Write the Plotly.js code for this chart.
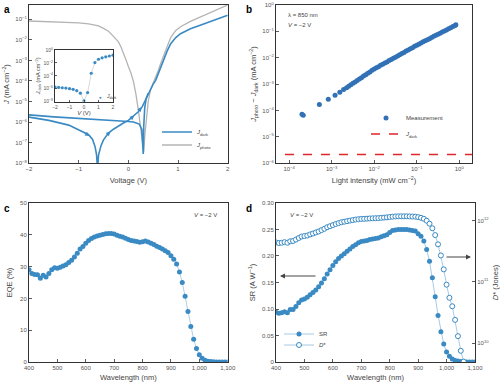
<!DOCTYPE html>
<html><head><meta charset="utf-8">
<script src="https://cdn.plot.ly/plotly-3.0.1.min.js"></script>
<style>html,body{margin:0;padding:0;background:#fff}#c{width:500px;height:382px}</style>
</head><body><div id="c"></div>
<script>
// ---------- Panel a: J–V ----------
const V_photo = [-2,-1.5,-1,-0.8,-0.6,-0.5,-0.4,-0.3,-0.2,-0.15,-0.1,-0.05,0,0.05,0.1,0.15,0.2,0.25,0.28,0.3,0.31,0.33,0.36,0.4,0.45,0.5,0.55,0.6,0.65,0.71,0.78,0.85,0.95,1.05,1.25,1.46,1.7,2.0];
const J_photo = [8.32e-2,7.59e-2,6.76e-2,6.03e-2,4.79e-2,3.63e-2,2.63e-2,1.48e-2,7.94e-3,4.68e-3,2.51e-3,1.12e-3,5.01e-4,2.51e-4,1.0e-4,2.51e-5,3.98e-6,5.01e-7,1.26e-7,3.98e-8,3.55e-8,2.0e-7,1.26e-6,1.0e-5,3.98e-5,7.94e-5,1.41e-4,3.16e-4,7.08e-4,1.58e-3,5.01e-3,1.26e-2,2.82e-2,4.37e-2,7.94e-2,0.135,0.251,0.501];
const V_dark_fwd = [-2,-1.6,-1.2,-1.0,-0.9,-0.8,-0.72,-0.67,-0.64,-0.62,-0.6,-0.55,-0.5,-0.4,-0.3,-0.2,-0.1,0,0.1,0.2,0.28,0.33,0.4,0.45,0.5,0.55,0.6,0.65,0.71,0.78,0.85,0.95,1.05,1.25,1.46,1.7,2.0];
const J_dark_fwd = [1.74e-6,1.20e-6,7.08e-7,4.17e-7,3.16e-7,2.40e-7,1.41e-7,6.31e-8,2.51e-8,5.01e-9,2.51e-8,7.08e-8,1.35e-7,2.88e-7,4.47e-7,6.46e-7,8.91e-7,1.20e-6,1.91e-6,3.16e-6,5.62e-6,1.0e-5,2.51e-5,4.47e-5,7.08e-5,1.07e-4,2.24e-4,5.01e-4,1.05e-3,2.82e-3,6.31e-3,1.26e-2,2.0e-2,3.47e-2,5.25e-2,8.71e-2,0.158];
const V_dark_rev = [0.4,0.36,0.33,0.31,0.3,0.29,0.27,0.22,0.1,0,-0.5,-1.0,-1.5,-2.0];
const J_dark_rev = [2.51e-5,1.41e-5,5.01e-6,6.31e-7,2.82e-8,1.26e-7,4.47e-7,7.94e-7,1.0e-6,1.07e-6,1.26e-6,1.45e-6,1.78e-6,2.24e-6];
// inset
const V_inset = [-2,-1.75,-1.5,-1.25,-1,-0.75,-0.5,-0.25,0,0.25,0.5,0.75,1,1.25,1.5,1.75,2];
const J_inset = [1.78e-6,1.58e-6,1.41e-6,1.26e-6,1.0e-6,7.94e-7,5.01e-7,2.0e-7,1.26e-8,2.51e-7,2.51e-4,1.12e-2,3.72e-2,6.31e-2,8.91e-2,0.120,0.158];
const decadeVals_a = [1e-8,1e-7,1e-6,1e-5,1e-4,1e-3,1e-2,1e-1];
const decadeText_a = ['10<sup>−8</sup>','10<sup>−7</sup>','10<sup>−6</sup>','10<sup>−5</sup>','10<sup>−4</sup>','10<sup>−3</sup>','10<sup>−2</sup>','10<sup>−1</sup>'];
const insetVals = [1e-8,1e-6,1e-4,1e-2,1];
const insetText = ['10<sup>−8</sup>','10<sup>−6</sup>','10<sup>−4</sup>','10<sup>−2</sup>','10<sup>0</sup>'];

// ---------- Panel b: intensity dependence ----------
const intensity = [2.0e-4,2.14e-4,5.13e-4,8.32e-4,1.20e-3,1.55e-3,
 1.905e-3,2.24e-3,2.51e-3,2.82e-3,3.16e-3,3.55e-3,3.98e-3,4.47e-3,5.01e-3,5.62e-3,6.31e-3,7.08e-3,7.94e-3,8.91e-3,
 1.0e-2,1.12e-2,1.26e-2,1.41e-2,1.58e-2,1.78e-2,2.0e-2,2.24e-2,2.51e-2,2.82e-2,3.16e-2,3.55e-2,3.98e-2,4.47e-2,5.01e-2,5.62e-2,6.31e-2,7.08e-2,7.94e-2,8.91e-2,
 0.100,0.112,0.126,0.141,0.158,0.178,0.200,0.224,0.251,0.282,0.316,0.355,0.398,0.447,0.501,0.562,0.631,0.708,0.794,0.832];
const dJ = [7.08e-5,6.61e-5,1.66e-4,2.63e-4,3.72e-4,4.90e-4,
 6.17e-4,7.24e-4,8.32e-4,9.33e-4,1.07e-3,1.20e-3,1.35e-3,1.55e-3,1.74e-3,2.00e-3,2.24e-3,2.57e-3,2.88e-3,3.31e-3,
 3.72e-3,4.17e-3,4.57e-3,5.13e-3,5.62e-3,6.31e-3,6.92e-3,7.76e-3,8.51e-3,9.55e-3,1.05e-2,1.17e-2,1.29e-2,1.45e-2,1.58e-2,1.78e-2,1.95e-2,2.19e-2,2.40e-2,2.69e-2,
 2.95e-2,3.24e-2,3.63e-2,3.98e-2,4.37e-2,4.79e-2,5.25e-2,5.89e-2,6.46e-2,7.08e-2,7.76e-2,8.51e-2,9.33e-2,0.102,0.112,0.126,0.138,0.151,0.166,0.178];
const J_dark_level = 2.1e-6;
const darkLineX = [3e-5, 5];
const bXvals = [1e-4,1e-3,1e-2,1e-1,1];
const bXtext = ['10<sup>−4</sup>','10<sup>−3</sup>','10<sup>−2</sup>','10<sup>−1</sup>','10<sup>0</sup>'];
const bYvals = [1e-6,1e-5,1e-4,1e-3,1e-2,1e-1,1];
const bYtext = ['10<sup>−6</sup>','10<sup>−5</sup>','10<sup>−4</sup>','10<sup>−3</sup>','10<sup>−2</sup>','10<sup>−1</sup>','10<sup>0</sup>'];

// ---------- Panels c & d: spectra ----------
const wavelength = [400,410,420,430,440,450,460,470,480,490,500,510,520,530,540,550,560,570,580,590,600,610,620,630,640,650,660,670,680,690,700,710,720,730,740,750,760,770,780,790,800,810,820,830,840,850,860,870,880,890,900,910,920,930,940,950,960,970,980,990,1000,1010,1020,1030,1040,1050,1060,1070,1080,1090,1100];
const EQE = [29.0,27.8,27.5,27.4,26.3,27.3,26.7,27.8,29.0,29.6,29.5,29.8,30.2,30.6,31.3,32.0,33.0,34.2,35.5,36.3,37.3,38.2,38.8,39.3,39.6,39.8,40.1,40.3,40.4,40.4,40.2,39.8,39.5,39.3,38.9,38.5,38.2,38.0,37.9,37.6,37.8,38.0,37.7,37.3,36.9,36.4,36.0,35.5,35.0,34.4,33.4,32.3,30.8,28.3,25.0,20.7,15.9,11.2,7.2,4.3,2.3,1.2,0.6,0.3,0.2,0.1,0.05,0.03,0.02,0.01,0.01];
const SR = [0.094,0.092,0.093,0.095,0.093,0.099,0.099,0.105,0.112,0.117,0.119,0.122,0.127,0.131,0.136,0.142,0.149,0.157,0.166,0.174,0.182,0.189,0.195,0.200,0.204,0.209,0.213,0.218,0.221,0.225,0.227,0.228,0.229,0.231,0.232,0.233,0.234,0.236,0.238,0.240,0.244,0.248,0.249,0.250,0.250,0.250,0.250,0.249,0.248,0.247,0.242,0.237,0.228,0.212,0.190,0.159,0.123,0.088,0.057,0.034,0.019,0.011,0.006,0.003,0.002,0.001,0.0005,0.0003,0.0002,0.0001,0.0001];
const Dstar = [4.4e11,4.3e11,4.35e11,4.45e11,4.35e11,4.6e11,4.65e11,4.9e11,5.2e11,5.5e11,5.6e11,5.7e11,5.95e11,6.15e11,6.4e11,6.65e11,7.0e11,7.35e11,7.8e11,8.1e11,8.45e11,8.8e11,9.1e11,9.4e11,9.6e11,9.8e11,1.0e12,1.02e12,1.04e12,1.055e12,1.065e12,1.07e12,1.075e12,1.085e12,1.09e12,1.095e12,1.1e12,1.11e12,1.12e12,1.13e12,1.145e12,1.16e12,1.17e12,1.175e12,1.175e12,1.175e12,1.175e12,1.17e12,1.165e12,1.16e12,1.14e12,1.11e12,1.07e12,9.95e11,8.9e11,7.5e11,5.8e11,4.1e11,2.7e11,1.6e11,9.0e10,5.5e10,4.0e10,2.4e10,1.3e10,7.5e9,5.0e9,4.0e9,3.5e9,3.2e9,3.0e9];
const cXvals = [400,500,600,700,800,900,1000,1100];
const cXtext = ['400','500','600','700','800','900','1,000','1,100'];
const dYvals = [0,0.05,0.10,0.15,0.20,0.25,0.30];
const dYtext = ['0','0.05','0.10','0.15','0.20','0.25','0.30'];
const dRvals = [1e10,1e11,1e12];
const dRtext = ['10<sup>10</sup>','10<sup>11</sup>','10<sup>12</sup>'];

const BLUE = '#3a8ac4', BLUE_B = '#3271b6', GRAY = '#b4b4b4', AX = '#333';
const FONT = 'Liberation Sans, Arial, sans-serif';

const traces = [
 {x:V_photo, y:J_photo, type:'scatter', mode:'lines', line:{color:GRAY,width:1.3}, name:'<i>J</i><sub>photo</sub>', xaxis:'x', yaxis:'y', legend:'legend2'},
 {x:V_dark_fwd, y:J_dark_fwd, type:'scatter', mode:'lines', line:{color:BLUE,width:1.6}, name:'<i>J</i><sub>dark</sub>', xaxis:'x', yaxis:'y', legend:'legend'},
 {x:V_dark_rev, y:J_dark_rev, type:'scatter', mode:'lines', line:{color:BLUE,width:1.6}, showlegend:false, xaxis:'x', yaxis:'y'},
 {x:V_inset, y:J_inset, type:'scatter', mode:'lines+markers', line:{color:'#cfcfcf',width:0.8}, marker:{color:BLUE,size:3.2}, showlegend:false, xaxis:'x6', yaxis:'y6'},
 {x:intensity, y:dJ, type:'scatter', mode:'markers', marker:{color:BLUE_B,size:5}, name:'Measurement', xaxis:'x2', yaxis:'y2', legend:'legend3'},
 {x:darkLineX, y:[J_dark_level,J_dark_level], type:'scatter', mode:'lines', line:{color:'#e0262b',width:1.5,dash:'dash'}, name:'<i>J</i><sub>dark</sub>', xaxis:'x2', yaxis:'y2', legend:'legend4'},
 {x:wavelength, y:EQE, type:'scatter', mode:'lines+markers', line:{color:'#9cc3e0',width:0.8}, marker:{color:BLUE,size:5}, showlegend:false, xaxis:'x3', yaxis:'y3'},
 {x:wavelength, y:SR, type:'scatter', mode:'lines+markers', line:{color:'#8fbce0',width:0.8}, marker:{color:BLUE,size:5}, name:'SR', xaxis:'x4', yaxis:'y4', legend:'legend5'},
 {x:wavelength, y:Dstar, type:'scatter', mode:'lines+markers', line:{color:'#8fbce0',width:0.8}, marker:{color:'#fff',size:5,symbol:'circle',line:{color:BLUE,width:1}}, name:'<i>D</i>*', xaxis:'x4', yaxis:'y5', legend:'legend6'}
];

const tickF = {family:FONT, size:6, color:'#555'};
const titF = {family:FONT, size:7.5, color:'#444'};
function ax(o){ return Object.assign({showline:true, linecolor:AX, linewidth:1, mirror:true, ticks:'inside', ticklen:3, tickcolor:AX, tickwidth:0.8, showgrid:false, zeroline:false, tickfont:tickF}, o); }

const yDomTop = [0.573, 0.987], yDomBot = [0.052, 0.469];
const legBase = {bgcolor:'rgba(0,0,0,0)', font:{family:FONT,size:6,color:'#444'}, itemwidth:30, xanchor:'left', yanchor:'middle', tracegroupgap:0};
function leg(xpx, ypx){ return Object.assign({}, legBase, {x:xpx/500, y:1-ypx/382}); }

const arrowsA = [
 {x:-0.78, y:Math.log10(2.1e-7), ax:-0.92, ay:Math.log10(3.4e-7)},
 {x:-0.36, y:Math.log10(3.5e-7), ax:-0.46, ay:Math.log10(2.0e-7)},
 {x:0.12, y:Math.log10(2.05e-6), ax:0.01, ay:Math.log10(1.25e-6)},
 {x:0.27, y:Math.log10(5.4e-6), ax:0.19, ay:Math.log10(3.0e-6)}
].map(a => Object.assign({xref:'x', yref:'y', axref:'x', ayref:'y', text:'', showarrow:true, arrowhead:2, arrowsize:0.9, arrowwidth:1, arrowcolor:BLUE, standoff:0}, a));

const annots = [
 {text:'<b>a</b>', x:0.004, y:0.995, xref:'paper', yref:'paper', xanchor:'left', yanchor:'top', showarrow:false, font:{family:FONT,size:10,color:'#000'}},
 {text:'<b>b</b>', x:0.488, y:0.995, xref:'paper', yref:'paper', xanchor:'left', yanchor:'top', showarrow:false, font:{family:FONT,size:10,color:'#000'}},
 {text:'<b>c</b>', x:0.004, y:0.475, xref:'paper', yref:'paper', xanchor:'left', yanchor:'top', showarrow:false, font:{family:FONT,size:10,color:'#000'}},
 {text:'<b>d</b>', x:0.488, y:0.475, xref:'paper', yref:'paper', xanchor:'left', yanchor:'top', showarrow:false, font:{family:FONT,size:10,color:'#000'}},
 {text:'λ = 850 nm', x:286/500, y:1-15/382, xref:'paper', yref:'paper', xanchor:'left', yanchor:'middle', showarrow:false, font:{family:FONT,size:6,color:'#444'}},
 {text:'<i>V</i> = −2 V', x:286/500, y:1-25/382, xref:'paper', yref:'paper', xanchor:'left', yanchor:'middle', showarrow:false, font:{family:FONT,size:6,color:'#444'}},
 {text:'<i>V</i> = −2 V', x:192/500, y:1-215/382, xref:'paper', yref:'paper', xanchor:'left', yanchor:'middle', showarrow:false, font:{family:FONT,size:6,color:'#444'}},
 {text:'<i>V</i> = −2 V', x:288/500, y:1-215/382, xref:'paper', yref:'paper', xanchor:'left', yanchor:'middle', showarrow:false, font:{family:FONT,size:6,color:'#444'}},
 // inset legend: marker glyph + label
 {text:'●', x:100/500, y:1-97/382, xref:'paper', yref:'paper', xanchor:'center', yanchor:'middle', showarrow:false, font:{family:FONT,size:4.5,color:BLUE}},
 {text:'<i>J</i><sub>dark</sub>', x:104/500, y:1-96.5/382, xref:'paper', yref:'paper', xanchor:'left', yanchor:'middle', showarrow:false, font:{family:FONT,size:5,color:'#444'}},
 {text:'', x:280/500, y:1-276/382, xref:'paper', yref:'paper', ax:37, ay:0, showarrow:true, arrowhead:2, arrowsize:1, arrowwidth:1, arrowcolor:'#444', standoff:0},
 {text:'', x:471/500, y:1-257/382, xref:'paper', yref:'paper', ax:-26, ay:0, showarrow:true, arrowhead:2, arrowsize:1, arrowwidth:1, arrowcolor:'#444', standoff:0}
].concat(arrowsA);

const layout = {
 width:500, height:382, margin:{l:0,r:0,t:0,b:0}, paper_bgcolor:'#fff', plot_bgcolor:'#fff',
 font:{family:FONT, size:6, color:'#444'}, showlegend:true,
 xaxis: ax({domain:[0.058,0.4554], range:[-2,2], anchor:'y', dtick:1, title:{text:'Voltage (V)', font:titF, standoff:6}}),
 yaxis: ax({domain:yDomTop, type:'log', range:[-8,-0.3], anchor:'x', tickmode:'array', tickvals:decadeVals_a, ticktext:decadeText_a, title:{text:'<i>J</i> (mA cm<sup>−2</sup>)', font:titF, standoff:4}}),
 xaxis2: ax({domain:[0.552,0.944], type:'log', range:[-4.31,0.3], anchor:'y2', tickmode:'array', tickvals:bXvals, ticktext:bXtext, title:{text:'Light intensity (mW cm<sup>−2</sup>)', font:titF, standoff:6}}),
 yaxis2: ax({domain:yDomTop, type:'log', range:[-6,0], anchor:'x2', tickmode:'array', tickvals:bYvals, ticktext:bYtext, title:{text:'<i>J</i><sub>photo</sub> − <i>J</i><sub>dark</sub> (mA cm<sup>−2</sup>)', font:titF, standoff:4}}),
 xaxis3: ax({domain:[0.058,0.4554], range:[400,1100], anchor:'y3', tickmode:'array', tickvals:cXvals, ticktext:cXtext, title:{text:'Wavelength (nm)', font:titF, standoff:5}}),
 yaxis3: ax({domain:yDomBot, range:[0,50], anchor:'x3', dtick:10, title:{text:'EQE (%)', font:titF, standoff:6}}),
 xaxis4: ax({domain:[0.552,0.95], range:[400,1100], anchor:'y4', tickmode:'array', tickvals:cXvals, ticktext:cXtext, title:{text:'Wavelength (nm)', font:titF, standoff:5}}),
 yaxis4: ax({domain:yDomBot, range:[0,0.30], anchor:'x4', mirror:false, tickmode:'array', tickvals:dYvals, ticktext:dYtext, title:{text:'SR (A W<sup>−1</sup>)', font:titF, standoff:5}}),
 yaxis5: ax({overlaying:'y4', side:'right', anchor:'x4', type:'log', range:[9.69,12.29], mirror:false, tickmode:'array', tickvals:dRvals, ticktext:dRtext, title:{text:'<i>D</i>* (Jones)', font:titF, standoff:6}}),
 xaxis6: ax({domain:[0.11,0.226], range:[-2,2], anchor:'y6', dtick:1, ticklen:2, tickfont:{family:FONT,size:5,color:'#555'}, title:{text:'<i>V</i> (V)', font:{family:FONT,size:6,color:'#444'}, standoff:2}}),
 yaxis6: ax({domain:[0.734,0.869], type:'log', range:[-8,0], anchor:'x6', ticklen:2, tickmode:'array', tickvals:insetVals, ticktext:insetText, tickfont:{family:FONT,size:5,color:'#555'}, title:{text:'<i>J</i><sub>dark</sub> (mA cm<sup>−2</sup>)', font:{family:FONT,size:5.5,color:'#444'}, standoff:2}}),
 legend:  leg(157, 132),
 legend2: leg(157, 145),
 legend3: leg(366, 118),
 legend4: leg(366, 134),
 legend5: leg(279, 334),
 legend6: leg(279, 345),
 annotations: annots
};

Plotly.newPlot('c', traces, layout, {displayModeBar:false, staticPlot:true});
</script></body></html>
